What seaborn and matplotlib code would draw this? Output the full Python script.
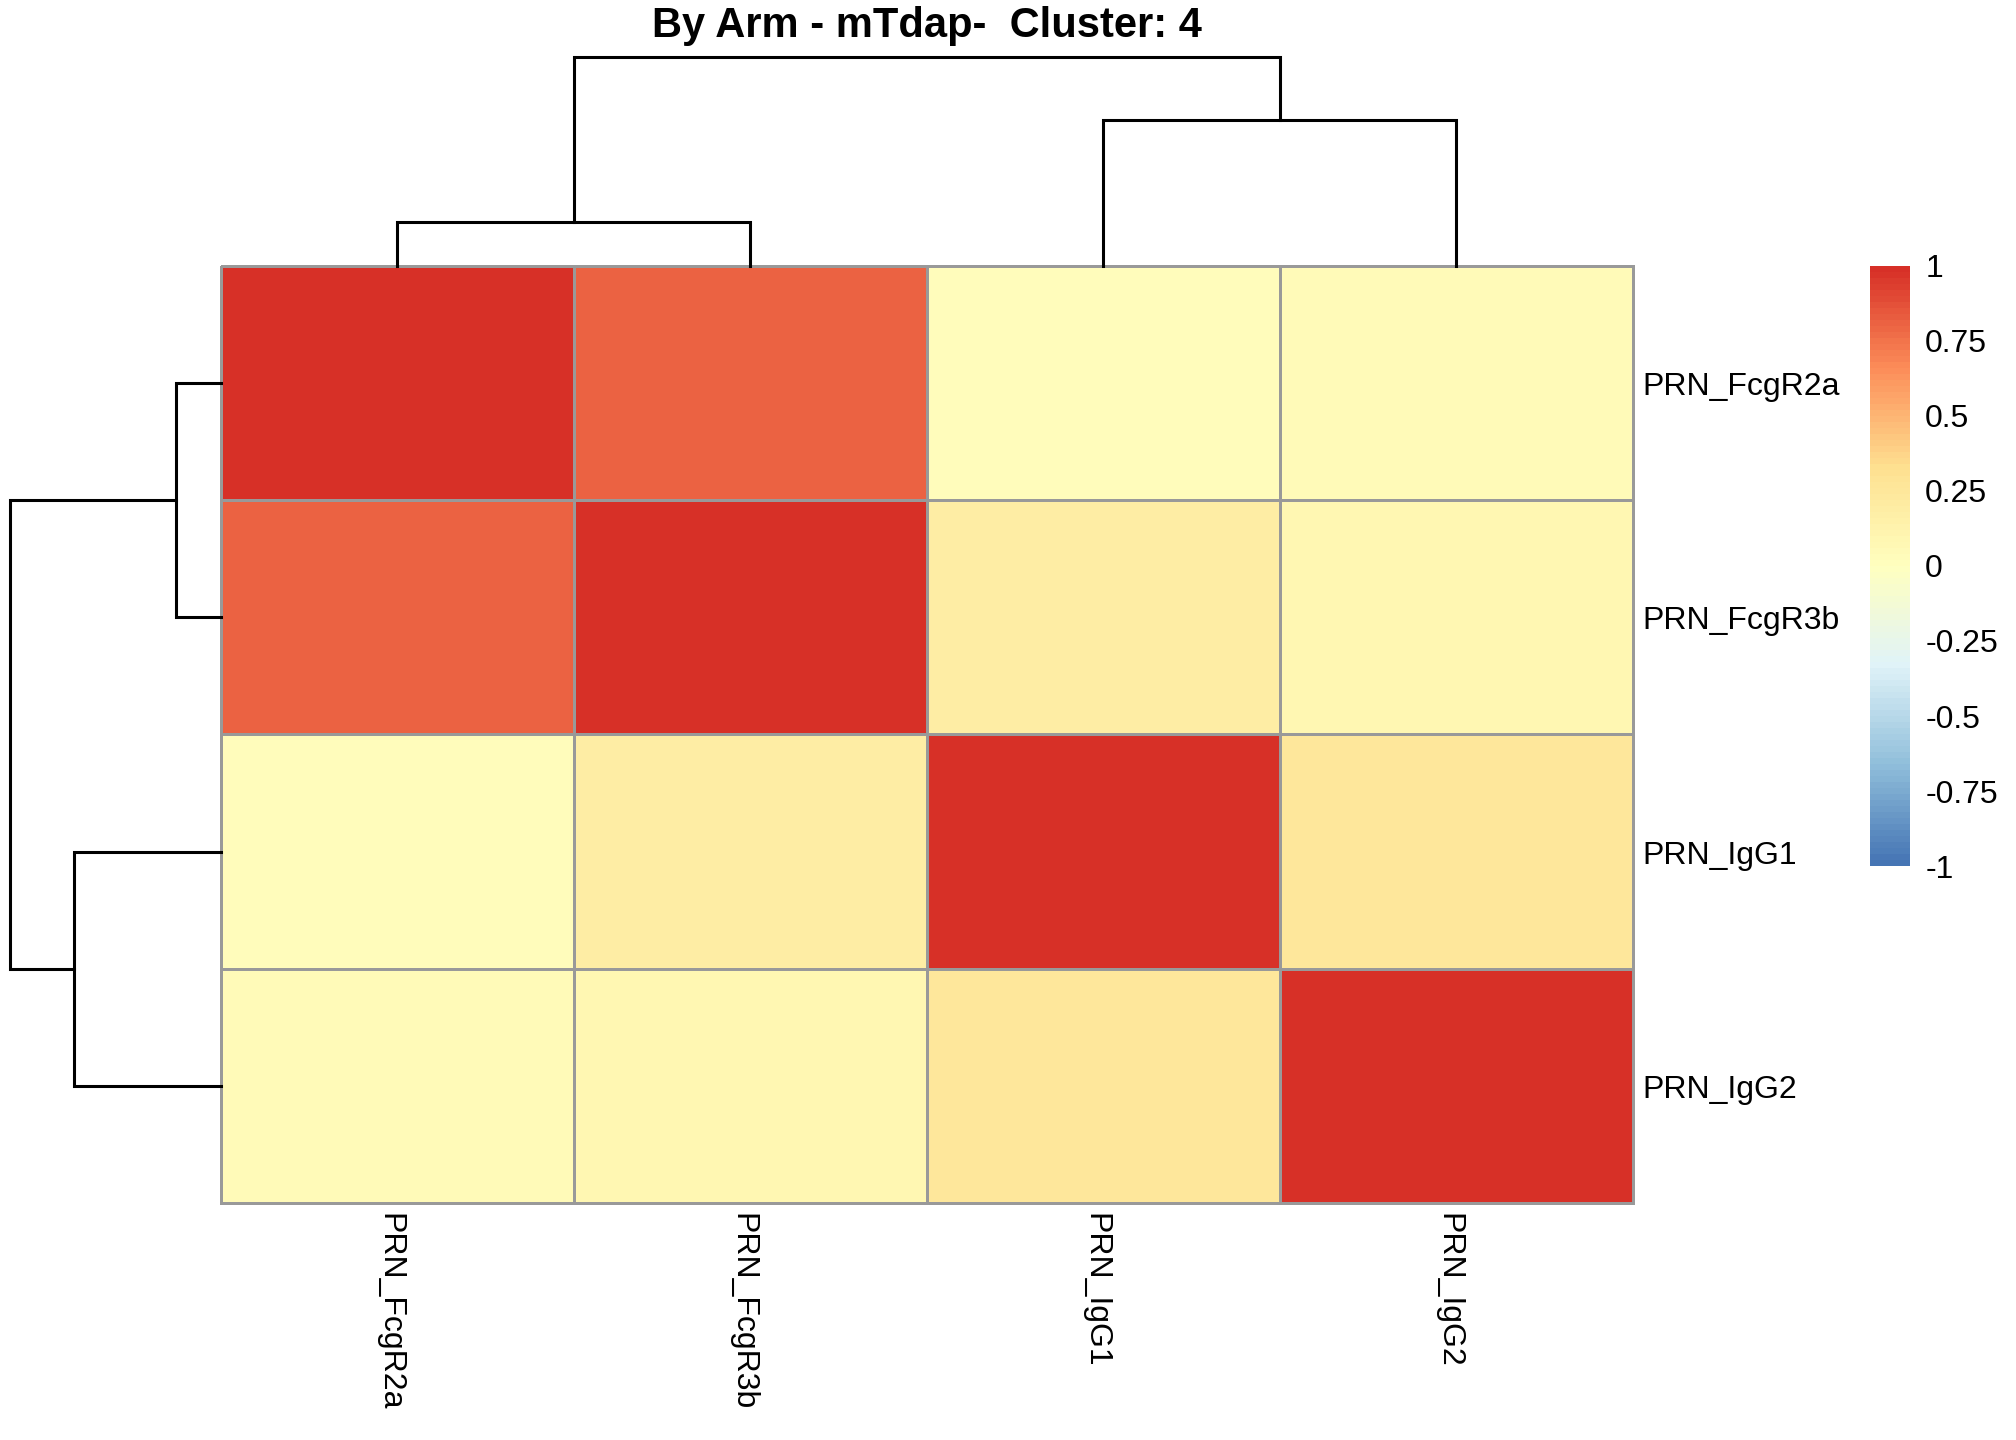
import numpy as np
import pandas as pd
import matplotlib
matplotlib.use("Agg")
import matplotlib.pyplot as plt
import matplotlib.transforms as mtransforms
import seaborn as sns
from matplotlib.colors import LinearSegmentedColormap, ListedColormap

# ----------------------------------------------------------------------
# Data: correlation matrix
# ----------------------------------------------------------------------
features = ["PRN_FcgR2a", "PRN_FcgR3b", "PRN_IgG1", "PRN_IgG2"]
corr_fcgr2a = [1.00, 0.80, 0.03, 0.04]
corr_fcgr3b = [0.80, 1.00, 0.19, 0.09]
corr_igg1 = [0.03, 0.19, 1.00, 0.24]
corr_igg2 = [0.04, 0.09, 0.24, 1.00]

legend_breaks = [-1, -0.75, -0.5, -0.25, 0, 0.25, 0.5, 0.75, 1]
legend_labels = ["-1", "-0.75", "-0.5", "-0.25", "0", "0.25", "0.5", "0.75", "1"]

# rev(brewer.pal(7, "RdYlBu")) ramped to 100 colours, like pheatmap
palette = ["#4575B4", "#91BFDB", "#E0F3F8", "#FFFFBF", "#FEE090", "#FC8D59", "#D73027"]
title = "By Arm - mTdap-  Cluster: 4"


def complete_linkage(mat):
    """Complete-linkage clustering on euclidean distances between rows."""
    n = len(mat)
    dist = np.sqrt(((mat[:, None, :] - mat[None, :, :]) ** 2).sum(-1))
    clusters = {i: [i] for i in range(n)}
    merges = []
    next_id = n
    while len(clusters) > 1:
        keys = list(clusters)
        best = None
        for a in range(len(keys)):
            for b in range(a + 1, len(keys)):
                h = dist[np.ix_(clusters[keys[a]], clusters[keys[b]])].max()
                if best is None or h < best[0]:
                    best = (h, keys[a], keys[b])
        h, a, b = best
        merges.append((a, b, h))
        clusters[next_id] = clusters.pop(a) + clusters.pop(b)
        next_id += 1
    return merges


def draw_dendrogram(ax, merges, n, orient):
    pos = {i: i + 0.5 for i in range(n)}
    height = {i: 0.0 for i in range(n)}
    for k, (a, b, h) in enumerate(merges):
        xs = [pos[a], pos[a], pos[b], pos[b]]
        ys = [height[a], h, h, height[b]]
        if orient == "top":
            ax.plot(xs, ys, color="black", lw=2.2, clip_on=False,
                    solid_capstyle="projecting", solid_joinstyle="miter")
        else:
            ax.plot(ys, xs, color="black", lw=2.2, clip_on=False,
                    solid_capstyle="projecting", solid_joinstyle="miter")
        pos[n + k] = (pos[a] + pos[b]) / 2
        height[n + k] = h
    top = max(h for _, _, h in merges)
    if orient == "top":
        ax.set_xlim(0, n)
        ax.set_ylim(0, top)
    else:
        ax.set_ylim(n, 0)
        ax.set_xlim(top, 0)
    ax.axis("off")


def main():
    sns.set_style("white")
    plt.rcParams["font.family"] = ["Liberation Sans", "DejaVu Sans"]
    plt.rcParams["text.color"] = "black"
    plt.rcParams["xtick.color"] = "black"
    plt.rcParams["ytick.color"] = "black"

    df = pd.DataFrame([corr_fcgr2a, corr_fcgr3b, corr_igg1, corr_igg2],
                      index=features, columns=features)

    ramp = LinearSegmentedColormap.from_list("rdylbu_rev", palette)
    cmap = ListedColormap(ramp(np.linspace(0, 1, 100)))

    fig = plt.figure(figsize=(20.16, 14.4), dpi=100)
    ax = fig.add_axes([0.1096, 0.1646, 0.7004, 0.6507])
    ax_col = fig.add_axes([0.1096, 0.8153, 0.7004, 0.1451])
    ax_row = fig.add_axes([0.0050, 0.1646, 0.1046, 0.6507])
    cax = fig.add_axes([0.9276, 0.3986, 0.0198, 0.4167])

    sns.heatmap(df, cmap=cmap, vmin=-1, vmax=1, linewidths=1.9,
                linecolor="#999999", ax=ax, cbar_ax=cax,
                cbar_kws={"ticks": legend_breaks})
    ax.collections[0].set_clip_on(False)

    # row labels on the right, column labels underneath reading downwards
    ax.yaxis.tick_right()
    ax.set_yticklabels(features, rotation=0, fontsize=23, va="center")
    ax.set_xticklabels(features, rotation=-90, fontsize=23, ha="center", va="top")
    ax.tick_params(axis="both", length=0)
    ax.tick_params(axis="y", pad=7)
    ax.tick_params(axis="x", pad=7)
    ax.set_xlabel("")
    ax.set_ylabel("")

    # small nudges so labels sit like pheatmap's
    shift_x = mtransforms.ScaledTranslation(-8 / 100, 0, fig.dpi_scale_trans)
    for lab in ax.get_xticklabels():
        lab.set_transform(lab.get_transform() + shift_x)
    shift_y = mtransforms.ScaledTranslation(0, -4 / 100, fig.dpi_scale_trans)
    for lab in ax.get_yticklabels():
        lab.set_transform(lab.get_transform() + shift_y)

    cax.set_yticklabels(legend_labels)
    cax.tick_params(length=0, labelsize=23, pad=11)

    values = df.to_numpy()
    draw_dendrogram(ax_col, complete_linkage(values.T), len(features), "top")
    draw_dendrogram(ax_row, complete_linkage(values), len(features), "left")

    fig.text(0.4598, 0.982, title, ha="center", va="center",
             fontsize=30, fontweight="bold")

    fig.savefig("out.png", dpi=100)


if __name__ == "__main__":
    main()
